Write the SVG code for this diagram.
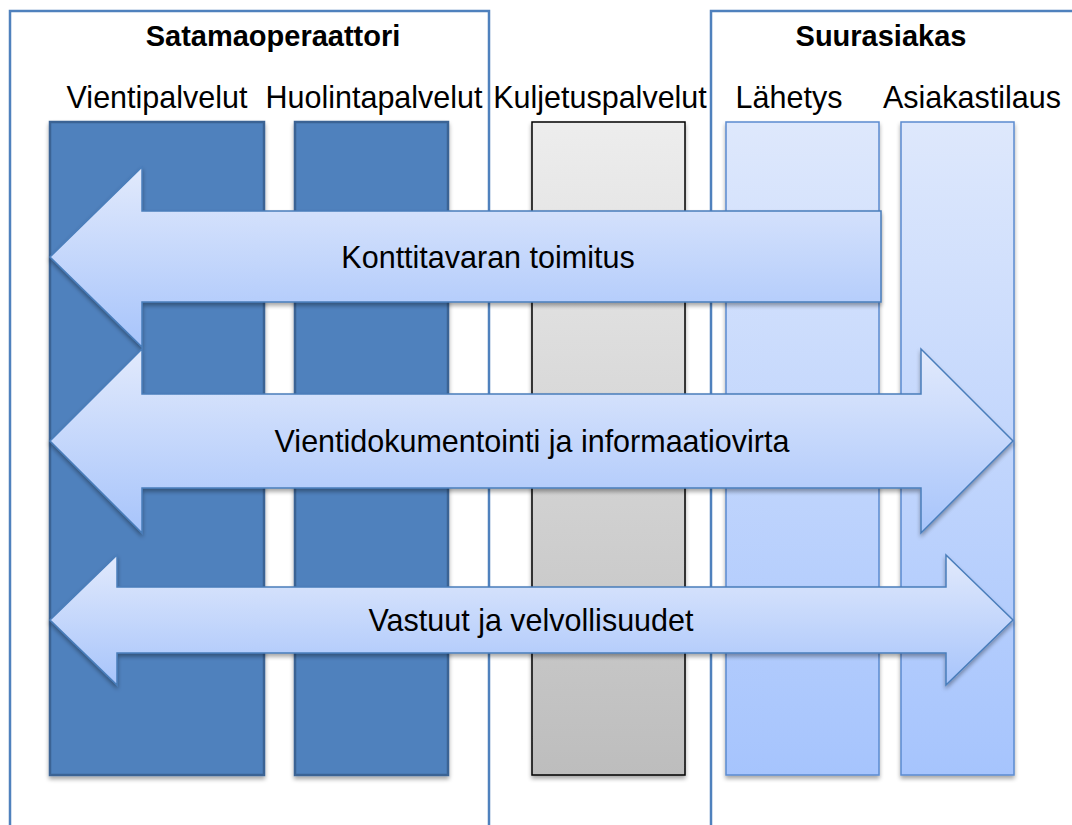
<svg xmlns="http://www.w3.org/2000/svg" width="1072" height="825" viewBox="0 0 1072 825">
  <style>
    .frame { fill: none; stroke: #4f81bd; stroke-width: 2.5; }
    .title { font-family: "Liberation Sans", Arial, sans-serif; font-weight: bold; font-size: 29px; fill: #000; text-anchor: middle; }
    .label { font-family: "Liberation Sans", Arial, sans-serif; font-size: 30.5px; fill: #000; text-anchor: middle; }
    .dark { fill: #4f81bd; stroke: #3a6394; stroke-width: 2.5; }
    .grey { fill: url(#greyFill); stroke: #000; stroke-width: 1.5; }
    .light { fill: url(#lightFill); stroke: #5b8bd0; stroke-width: 1.5; }
    .flow { fill: url(#flowFill); stroke: #4a7ebb; stroke-width: 1.5; }
  </style>
  <defs>
    <linearGradient id="greyFill" x1="0" y1="0" x2="0" y2="1">
      <stop offset="0" stop-color="#ededed"/>
      <stop offset="1" stop-color="#bdbdbd"/>
    </linearGradient>
    <linearGradient id="lightFill" x1="0" y1="0" x2="0" y2="1">
      <stop offset="0" stop-color="#dee8fc"/>
      <stop offset="1" stop-color="#a6c4fd"/>
    </linearGradient>
    <linearGradient id="flowFill" x1="0" y1="0" x2="0" y2="1">
      <stop offset="0" stop-color="#e2eafc"/>
      <stop offset="1" stop-color="#a7c4fb"/>
    </linearGradient>
    <filter id="shadow" x="-10%" y="-10%" width="120%" height="120%">
      <feGaussianBlur in="SourceAlpha" stdDeviation="2"/>
      <feOffset dx="0" dy="3" result="blur"/>
      <feComponentTransfer><feFuncA type="linear" slope="0.35"/></feComponentTransfer>
      <feMerge><feMergeNode/><feMergeNode in="SourceGraphic"/></feMerge>
    </filter>
  </defs>

  <rect x="0" y="0" width="1072" height="825" fill="#fff"/>

  <!-- organisation frames -->
  <g id="satamaoperaattori">
    <path class="frame" d="M10,830 V11 H489 V830"/>
    <text class="title" x="273" y="46">Satamaoperaattori</text>
  </g>
  <g id="suurasiakas">
    <path class="frame" d="M711,830 V11 H1080"/>
    <text class="title" x="881" y="46">Suurasiakas</text>
  </g>

  <!-- service columns -->
  <g id="vientipalvelut">
    <text class="label" x="157" y="108">Vientipalvelut</text>
    <rect class="dark" x="50" y="122" width="214" height="653" filter="url(#shadow)"/>
  </g>
  <g id="huolintapalvelut">
    <text class="label" x="374" y="108">Huolintapalvelut</text>
    <rect class="dark" x="295" y="122" width="153" height="653" filter="url(#shadow)"/>
  </g>
  <g id="kuljetuspalvelut">
    <text class="label" x="600" y="108">Kuljetuspalvelut</text>
    <rect class="grey" x="532" y="122" width="153" height="653" filter="url(#shadow)"/>
  </g>
  <g id="lahetys">
    <text class="label" x="789" y="108">Lähetys</text>
    <rect class="light" x="726" y="122" width="153" height="653" filter="url(#shadow)"/>
  </g>
  <g id="asiakastilaus">
    <text class="label" x="972" y="108">Asiakastilaus</text>
    <rect class="light" x="901" y="122" width="113" height="653" filter="url(#shadow)"/>
  </g>

  <!-- flow arrows across the columns -->
  <g id="connectors">
    <g id="konttitavaran-toimitus">
      <path class="flow" filter="url(#shadow)" d="M50,257 L142,167 L142,211 L881,211 L881,302 L142,302 L142,347 Z"/>
      <text class="label" x="488" y="268">Konttitavaran toimitus</text>
    </g>
    <g id="vientidokumentointi">
      <path class="flow" filter="url(#shadow)" d="M50,441 L142,349 L142,394 L921,394 L921,349 L1013,441 L921,533 L921,488 L142,488 L142,533 Z"/>
      <text class="label" x="532" y="452">Vientidokumentointi ja informaatiovirta</text>
    </g>
    <g id="vastuut">
      <path class="flow" filter="url(#shadow)" d="M50,620 L117,555 L117,587 L946,587 L946,555 L1013,620 L946,685 L946,653 L117,653 L117,685 Z"/>
      <text class="label" x="531" y="631">Vastuut ja velvollisuudet</text>
    </g>
  </g>
</svg>
